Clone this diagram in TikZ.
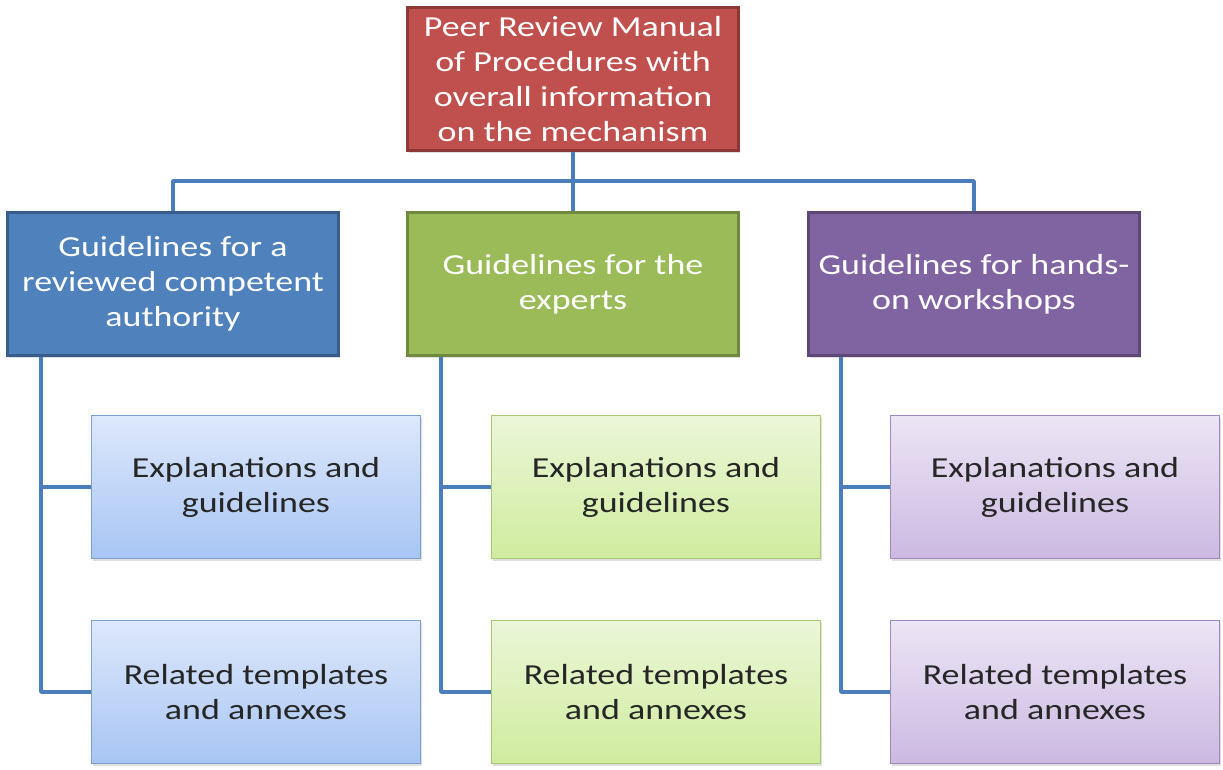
\documentclass[tikz,border=0pt]{standalone}
\usepackage{fontspec}
\setmainfont{Carlito}[FakeStretch=1.24]
\usetikzlibrary{shadows}
\definecolor{redfill}{HTML}{C0504D}
\definecolor{reddraw}{HTML}{8C3836}
\definecolor{bluefill}{HTML}{4F81BD}
\definecolor{bluedraw}{HTML}{385D8A}
\definecolor{greenfill}{HTML}{9BBB59}
\definecolor{greendraw}{HTML}{71893F}
\definecolor{purplefill}{HTML}{8064A2}
\definecolor{purpledraw}{HTML}{5C4776}
\definecolor{linecol}{HTML}{4A7EBB}
\definecolor{bluetop}{HTML}{DDE8FB}
\definecolor{bluebot}{HTML}{A8C5F4}
\definecolor{bluebd}{HTML}{7BA0CD}
\definecolor{greentop}{HTML}{EBF6D8}
\definecolor{greenbot}{HTML}{D0EC9E}
\definecolor{greenbd}{HTML}{A9C873}
\definecolor{purpletop}{HTML}{ECE5F5}
\definecolor{purplebot}{HTML}{CCB9E2}
\definecolor{purplebd}{HTML}{9F88BD}
\tikzset{
  mainbox/.style={draw, line width=2.5pt, minimum width=331pt, minimum height=143pt,
    inner sep=0pt, align=center, text=white, font=\fontsize{29}{35}\selectfont,
    drop shadow={shadow xshift=1pt, shadow yshift=-2pt, opacity=0.25}},
  subbox/.style={draw, line width=1.5pt, minimum width=329pt, minimum height=143pt,
    inner sep=0pt, align=center, text=black!85, font=\fontsize{29}{35}\selectfont,
    drop shadow={shadow xshift=1pt, shadow yshift=-2pt, opacity=0.25}},
  conn/.style={draw=linecol, line width=3.5pt, line join=round}
}
\begin{document}
\begin{tikzpicture}[x=1pt, y=-1pt]
\useasboundingbox (0,0) rectangle (1223,769);
\coordinate (hub) at (573,181);
\coordinate (c1) at (41,357);
\coordinate (c2) at (441,357);
\coordinate (c3) at (841,357);
% nodes
\node[mainbox, fill=redfill, draw=reddraw] (top) at (573,79)
  {Peer Review Manual\\of Procedures with\\overall information\\on the mechanism};
\node[mainbox, fill=bluefill, draw=bluedraw] (b1) at (173,284)
  {Guidelines for a\\reviewed competent\\authority};
\node[mainbox, fill=greenfill, draw=greendraw] (b2) at (573,284)
  {Guidelines for the\\experts};
\node[mainbox, fill=purplefill, draw=purpledraw] (b3) at (974,284)
  {Guidelines for hands-\\on workshops};
\node[subbox, top color=bluetop, bottom color=bluebot, draw=bluebd] (e1) at (256,487)
  {Explanations and\\guidelines};
\node[subbox, top color=bluetop, bottom color=bluebot, draw=bluebd] (r1) at (256,692)
  {Related templates\\and annexes};
\node[subbox, top color=greentop, bottom color=greenbot, draw=greenbd] (e2) at (656,487)
  {Explanations and\\guidelines};
\node[subbox, top color=greentop, bottom color=greenbot, draw=greenbd] (r2) at (656,692)
  {Related templates\\and annexes};
\node[subbox, top color=purpletop, bottom color=purplebot, draw=purplebd] (e3) at (1055,487)
  {Explanations and\\guidelines};
\node[subbox, top color=purpletop, bottom color=purplebot, draw=purplebd] (r3) at (1055,692)
  {Related templates\\and annexes};
% connectors
\draw[conn] (top.south) -- (hub);
\draw[conn] (b1.north) -- (b1.north |- hub) -- (b3.north |- hub) -- (b3.north);
\draw[conn] (hub) -- (b2.north);
\draw[conn] (c1) |- (e1.west);
\draw[conn] (c1) |- (r1.west);
\draw[conn] (c2) |- (e2.west);
\draw[conn] (c2) |- (r2.west);
\draw[conn] (c3) |- (e3.west);
\draw[conn] (c3) |- (r3.west);
\end{tikzpicture}
\end{document}
